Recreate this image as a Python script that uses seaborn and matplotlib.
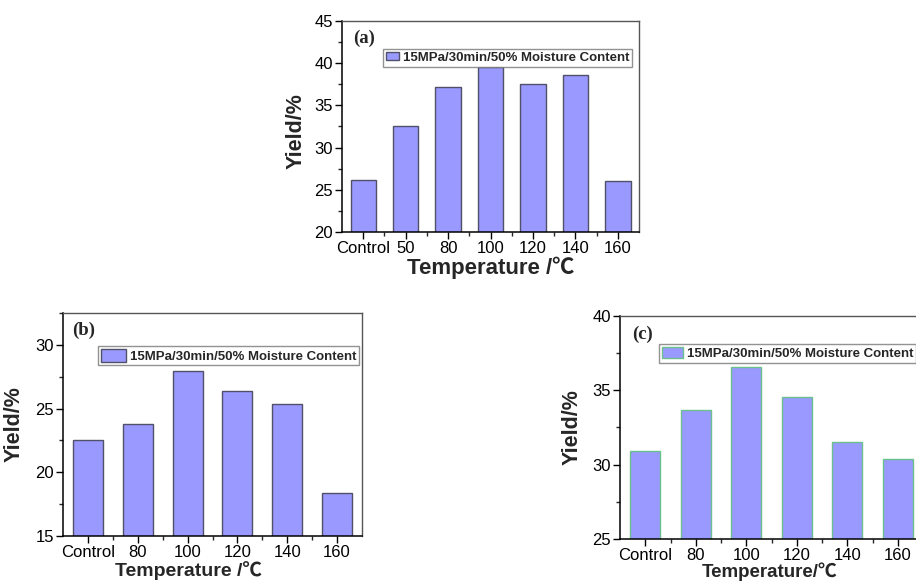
import matplotlib
matplotlib.use("Agg")
import matplotlib.pyplot as plt
import pandas as pd
import seaborn as sns
from matplotlib.ticker import AutoMinorLocator, FixedLocator, MultipleLocator

sns.set_style("ticks")
plt.rcParams["font.family"] = ["Liberation Sans", "Noto Sans CJK SC", "DejaVu Sans"]

# veriler
temps_a = ["Control", "50", "80", "100", "120", "140", "160"]
yield_a = [26.2, 32.6, 37.2, 39.5, 37.5, 38.6, 26.0]

temps_b = ["Control", "80", "100", "120", "140", "160"]
yield_b = [22.5, 23.8, 27.95, 26.4, 25.35, 18.4]

temps_c = ["Control", "80", "100", "120", "140", "160"]
yield_c = [30.9, 33.7, 36.6, 34.55, 31.5, 30.35]

legend_label = "15MPa/30min/50% Moisture Content"
bar_color = "#9999ff"

fig = plt.figure(figsize=(9.16, 5.82), dpi=100)

# (sol, alt, genislik, yukseklik), label konumlari, legend ayarlari
panels = [
    dict(name="(a)", temps=temps_a, vals=yield_a, pos=[0.3734, 0.6014, 0.3242, 0.3625],
         ylim=(20, 45), edge="#50506a", xlabel="Temperature /℃", xsize=16,
         ylab=(-0.118, 0.48), xlab=(0.5, -0.118), tag=(0.074, 0.92),
         leg=(0.138, 0.866), hl=1.0, hh=0.5),
    dict(name="(b)", temps=temps_b, vals=yield_b, pos=[0.0688, 0.0790, 0.3264, 0.3832],
         ylim=(15, 32.5), edge="#50506a", xlabel="Temperature /℃", xsize=14,
         ylab=(-0.127, 0.5), xlab=(0.418, -0.112), tag=(0.069, 0.924),
         leg=(0.117, 0.851), hl=1.9, hh=1.1),
    dict(name="(c)", temps=temps_c, vals=yield_c, pos=[0.6769, 0.0739, 0.3308, 0.3832],
         ylim=(25, 40), edge="#6cc08c", xlabel="Temperature/℃", xsize=13.5,
         ylab=(-0.125, 0.5), xlab=(0.495, -0.106), tag=(0.073, 0.917),
         leg=(0.129, 0.873), hl=1.6, hh=0.9),
]

for p in panels:
    ax = fig.add_axes(p["pos"])
    df = pd.DataFrame({"temp": p["temps"], "yield": p["vals"]})
    sns.barplot(data=df, x="temp", y="yield", color=bar_color, saturation=1,
                width=0.6, edgecolor=p["edge"], linewidth=1.0,
                label=legend_label, ax=ax)
    n = len(p["temps"])
    ax.set_xlim(-0.5, n - 0.5)
    ax.set_ylim(*p["ylim"])
    ax.yaxis.set_major_locator(MultipleLocator(5))
    ax.yaxis.set_minor_locator(AutoMinorLocator(2))
    ax.xaxis.set_minor_locator(FixedLocator([i + 0.5 for i in range(n - 1)]))
    ax.tick_params(which="major", direction="out", length=5, width=1,
                   labelsize=12, colors="black", pad=1.5)
    ax.tick_params(which="minor", direction="out", length=3, width=1)
    for s in ["left", "bottom"]:
        ax.spines[s].set_color("black")
        ax.spines[s].set_linewidth(1.1)
    for s in ["top", "right"]:
        ax.spines[s].set_visible(True)
        ax.spines[s].set_color("#555555")
        ax.spines[s].set_linewidth(1.0)

    ax.set_ylabel("Yield/%", fontsize=15.5, fontweight="bold")
    ax.set_xlabel(p["xlabel"], fontsize=p["xsize"], fontweight="bold")
    ax.yaxis.set_label_coords(*p["ylab"])
    ax.xaxis.set_label_coords(*p["xlab"])

    ax.text(p["tag"][0], p["tag"][1], p["name"], transform=ax.transAxes,
            ha="center", va="center", fontsize=13.5, fontweight="bold",
            family="Liberation Serif")

    leg = ax.legend(loc="upper left", bbox_to_anchor=p["leg"], frameon=True,
                    fancybox=False, borderaxespad=0, borderpad=0.2,
                    handlelength=p["hl"], handleheight=p["hh"], handletextpad=0.3,
                    prop={"size": 9.5, "weight": "bold"})
    leg.get_frame().set_edgecolor("#777777")
    leg.get_frame().set_linewidth(1.0)

fig.savefig("out.png", dpi=100)
